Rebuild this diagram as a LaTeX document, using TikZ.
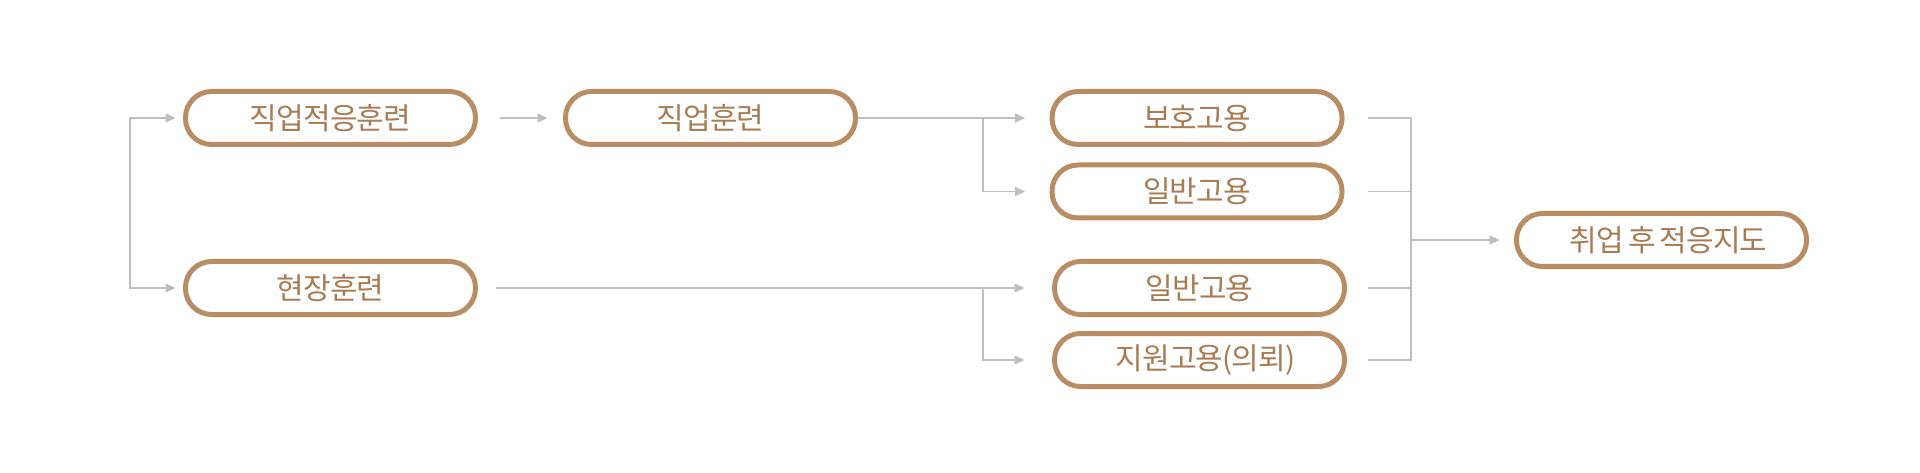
\documentclass[tikz,border=0pt]{standalone}
\usepackage{fontspec}
\setmainfont{Noto Sans CJK KR}
\newfontfamily\boxfont[LetterSpace=-3]{Noto Sans CJK KR}
\usetikzlibrary{arrows.meta}
\definecolor{boxbrown}{RGB}{185,141,100}
\definecolor{txtbrown}{RGB}{168,124,84}
\definecolor{linegray}{RGB}{190,190,190}
\begin{document}
\begin{tikzpicture}[x=1pt,y=-1pt,
  stepbox/.style={draw=boxbrown, line width=5pt, rounded corners=26pt,
    minimum width=290pt, minimum height=53pt, inner sep=0pt,
    text=txtbrown, font=\boxfont\fontsize{30}{36}\selectfont},
  conn/.style={draw=linegray, line width=1.5pt},
  arr/.style={conn, -{Triangle[length=10pt,width=9pt]}}]
\useasboundingbox[fill=white] (0,0) rectangle (1920,473);
\node[stepbox] (A) at (330.5,118) {직업적응훈련};
\node[stepbox] (B) at (710.5,118) {직업훈련};
\node[stepbox] (C) at (1197,118) {보호고용};
\node[stepbox] (D) at (1197,191.5) {일반고용};
\node[stepbox] (G) at (330.5,288) {현장훈련};
\node[stepbox] (E) at (1199.5,288) {일반고용};
\node[stepbox] (F) at (1199.5,360) {\hspace*{12pt}지원고용(의뢰)};
\node[stepbox] (H) at (1661.5,240) {\hspace*{14pt}취업\hspace{4pt}후\hspace{4pt}적응지도};
% left bracket
\coordinate (L) at (130,203);
\draw[arr, shorten >=7.5pt] (L) |- (A.west);
\draw[arr, shorten >=7.5pt] (L) |- (G.west);
% A -> B
\draw[arr, shorten <=21.5pt, shorten >=15.5pt] (A.east) -- (B.west);
% B -> C, D
\coordinate (P) at (983,118);
\draw[arr, shorten >=24.5pt] (B.east) -- (C.west);
\draw[arr, shorten >=24.5pt] (P) |- (D.west);
% G -> E, F
\coordinate (Q) at (983,288);
\draw[arr, shorten <=17.5pt, shorten >=27.5pt] (G.east) -- (E.west);
\draw[arr, shorten >=27.5pt] (Q) |- (F.west);
% right bracket
\coordinate (R) at (1411,240);
\draw[conn, shorten <=23.5pt] (C.east) -| (R);
\draw[conn, shorten <=23.5pt] (D.east) -| (R);
\draw[conn, shorten <=21pt] (E.east) -| (R);
\draw[conn, shorten <=21pt] (F.east) -| (R);
\draw[arr, shorten >=14.5pt] (R) -- (H.west);
\end{tikzpicture}
\end{document}
